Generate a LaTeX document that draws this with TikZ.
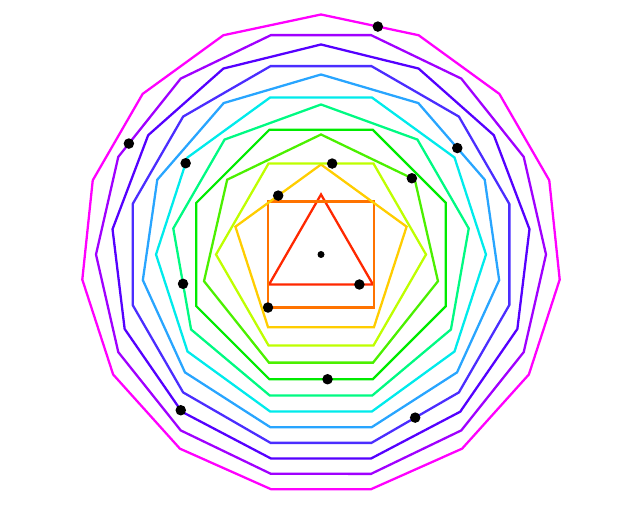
\documentclass[tikz,border=0pt]{standalone}
\usetikzlibrary{shapes.geometric}
\begin{document}
\begin{tikzpicture}[x=1cm,y=1cm,
  poly/.style={regular polygon, regular polygon sides=#1,
    minimum size={0.3cm*(#1+1)}, inner sep=0pt, outer sep=0pt,
    line width=0.65pt, line join=miter},
  dotmark/.style={circle, fill=black, inner sep=0pt, outer sep=0pt, minimum size=0.105cm},
  centermark/.style={circle, fill=black, inner sep=0pt, outer sep=0pt, minimum size=0.07cm}]
\useasboundingbox (-3.21,-2.545) rectangle (3.21,2.545);
\foreach \n/\c/\a in {3/{255,40,0}/322.2, 4/{255,115,0}/225.7, 5/{255,205,0}/126.5,
    6/{190,255,0}/83.9, 7/{75,240,0}/40.5, 8/{0,235,0}/273.2, 9/{0,250,130}/192.8,
    10/{0,235,235}/146.1, 11/{40,165,255}/38.1, 12/{75,45,255}/300.5,
    13/{85,0,255}/228.6, 14/{160,0,255}/150.8, 15/{255,0,255}/76.9} {
  \definecolor{pc}{RGB}{\c}
  \node[poly=\n, draw=pc] (p\n) at (0,0) {};
  \node[dotmark] (d\n) at (p\n.\a) {};
}
\node[centermark] (c) at (0,0) {};
\end{tikzpicture}
\end{document}
